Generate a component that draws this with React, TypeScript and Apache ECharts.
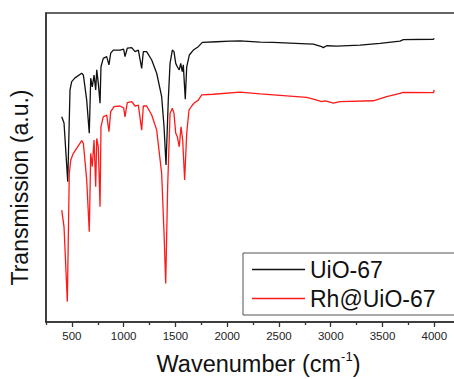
import React, { useEffect, useRef } from "react";
import * as echarts from "echarts";

// FTIR spectra, wavenumber (cm^-1) vs. transmission (arbitrary units)
const uioWavenumber = [
  402, 424, 460, 482, 498, 530, 595, 611, 643, 668, 682, 697, 714, 730, 740, 755, 772, 781,
  803, 836, 858, 875, 900, 965, 1000, 1013, 1035, 1078, 1110, 1142, 1174, 1190, 1222, 1271,
  1319, 1367, 1390, 1409, 1431, 1448, 1470, 1486, 1503, 1518, 1537, 1551, 1566, 1576, 1595,
  1609, 1634, 1673, 1721, 1760, 1898, 2027, 2124, 2317, 2445, 2768, 2832, 2912, 2928, 2961,
  3058, 3283, 3476, 3669, 3701, 3991, 4000,
];
const uioTransmission = [
  66.4, 64.4, 45.4, 75.1, 77.8, 79.0, 80.5, 79.9, 71.8, 61.1, 78.9, 76.1, 79.9, 75.1, 81.6, 77.3, 70.8, 82.6,
  85.3, 85.9, 83.2, 87.0, 88.0, 88.0, 88.3, 85.9, 88.6, 88.8, 87.5, 88.0, 82.1, 87.5, 87.5, 84.8,
  80.5, 72.9, 63.2, 50.8, 71.8, 83.7, 88.0, 87.5, 83.7, 82.6, 81.6, 83.7, 81.0, 83.2, 72.1,
  82.6, 86.4, 88.0, 89.1, 90.5, 90.7, 90.9, 91.0, 90.6, 90.5, 90.0, 89.9, 89.1, 88.8, 89.4,
  89.3, 89.6, 90.2, 90.9, 91.4, 91.5, 91.8,
];

const rhWavenumber = [
  402, 424, 456, 475, 489, 514, 546, 595, 611, 643, 668, 682, 697, 714, 730, 740, 755, 772,
  781, 803, 836, 858, 875, 907, 965, 1000, 1013, 1035, 1078, 1110, 1142, 1174, 1190, 1222,
  1271, 1319, 1367, 1390, 1406, 1425, 1448, 1470, 1486, 1503, 1518, 1537, 1554, 1570, 1589,
  1609, 1631, 1657, 1679, 1721, 1754, 1866, 2124, 2317, 2768, 2832, 2912, 2945, 2977, 3025,
  3089, 3411, 3540, 3669, 3701, 3991, 4000,
];
const rhTransmission = [
  36.2, 30.8, 6.6, 48.1, 52.4, 54.6, 56.2, 58.7, 57.8, 46.0, 29.2, 54.6, 50.3, 58.9, 43.8, 59.4, 56.7, 37.3,
  63.2, 66.4, 67.0, 61.6, 68.1, 69.7, 69.9, 69.3, 66.4, 71.0, 71.3, 69.9, 70.2, 62.1, 69.9, 69.9,
  67.0, 62.1, 48.1, 28.7, 12.5, 43.8, 67.5, 69.2, 67.5, 61.1, 60.0, 56.7, 63.2, 58.9, 46.0,
  61.1, 68.6, 69.9, 70.8, 71.8, 73.5, 73.7, 74.4, 73.8, 72.7, 72.1, 71.3, 71.6, 71.3, 70.8,
  71.3, 71.6, 72.9, 74.0, 74.3, 74.2, 75.1,
];

const seriesNames = ["UiO-67", "Rh@UiO-67"];
const seriesColors = ["#111111", "#ff1a1a"];
const majorTicks = [500, 1000, 1500, 2000, 2500, 3000, 3500, 4000];
const minorTicks = [250, 750, 1250, 1750, 2250, 2750, 3250, 3750];

const X_MIN = 250;
const X_MAX = 4200;
const GRID_TOP = 13;
const GRID_BOTTOM = 57;
const CHART_H = 379;
const PLOT_H = CHART_H - GRID_TOP - GRID_BOTTOM;
const FONT = "'Liberation Sans', Arial, Helvetica, sans-serif";
const AXIS_COLOR = "#333";

const pairs = (xs: number[], ys: number[]) => xs.map((x, i) => [x, ys[i]]);

export default function App() {
  const ref = useRef<HTMLDivElement>(null);

  useEffect(() => {
    if (!ref.current) return;
    const chart = echarts.init(ref.current, null, { renderer: "svg" });

    chart.setOption({
      animation: false,
      backgroundColor: "#ffffff",
      textStyle: { fontFamily: FONT },
      grid: {
        left: 46,
        top: GRID_TOP,
        right: -1,
        bottom: GRID_BOTTOM,
        containLabel: false,
        outerBoundsMode: "none",
        show: true,
        borderColor: AXIS_COLOR,
        borderWidth: 1.5,
        backgroundColor: "transparent",
      },
      legend: {
        orient: "vertical",
        left: 243,
        top: 253,
        width: 202,
        padding: [5, 40, 5, 9],
        icon: "rect",
        itemWidth: 53,
        itemHeight: 1.6,
        itemGap: 6,
        borderColor: "#555",
        borderWidth: 1,
        backgroundColor: "#fff",
        textStyle: { fontFamily: FONT, fontSize: 23, color: "#111" },
        data: seriesNames,
      },
      xAxis: [
        {
          type: "value",
          min: X_MIN,
          max: X_MAX,
          position: "bottom",
          name: "{a|Wavenumber (cm}{s|-1}{a|)}",
          nameLocation: "middle",
          nameGap: 28,
          nameTextStyle: {
            padding: [0, 0, 0, 16],
            rich: {
              a: { fontFamily: FONT, fontSize: 23.5, color: "#111", lineHeight: 26, verticalAlign: "bottom" },
              s: { fontFamily: FONT, fontSize: 13, color: "#111", lineHeight: 26, verticalAlign: "top" },
            },
          },
          axisLine: { show: true, onZero: false, lineStyle: { color: AXIS_COLOR, width: 1.5 } },
          axisTick: { show: true, inside: false, length: 5, customValues: majorTicks, lineStyle: { color: AXIS_COLOR, width: 1.3 } },
          axisLabel: {
            customValues: majorTicks,
            margin: 8,
            fontSize: 11.5,
            color: "#222",
            fontFamily: FONT,
            formatter: (v: number) => String(v),
          },
          splitLine: { show: false },
        },
        {
          // minor ticks: a top-positioned axis shifted down onto the bottom edge
          type: "value",
          min: X_MIN,
          max: X_MAX,
          position: "top",
          offset: -PLOT_H,
          axisLine: { show: false },
          axisTick: { show: true, inside: true, length: 3, customValues: minorTicks, lineStyle: { color: AXIS_COLOR, width: 1.3 } },
          axisLabel: { show: false },
          splitLine: { show: false },
        },
      ],
      yAxis: {
        type: "value",
        min: 0,
        max: 100,
        name: "Transmission (a.u.)",
        nameLocation: "middle",
        nameGap: 15,
        nameTextStyle: { fontFamily: FONT, fontSize: 23, color: "#111", padding: [0, 0, 0, -40] },
        axisLine: { show: true, onZero: false, lineStyle: { color: AXIS_COLOR, width: 1.5 } },
        axisTick: { show: false },
        axisLabel: { show: false },
        splitLine: { show: false },
      },
      series: seriesNames.map((name, i) => ({
        name,
        type: "line",
        xAxisIndex: 0,
        data: i === 0 ? pairs(uioWavenumber, uioTransmission) : pairs(rhWavenumber, rhTransmission),
        symbol: "none",
        lineStyle: { color: seriesColors[i], width: 1.3 },
        itemStyle: { color: seriesColors[i] },
      })),
    });

    return () => chart.dispose();
  }, []);

  return (
    <div
      ref={ref}
      style={{ position: "fixed", left: 0, top: 0, width: 454, height: CHART_H, background: "#fff" }}
    />
  );
}
